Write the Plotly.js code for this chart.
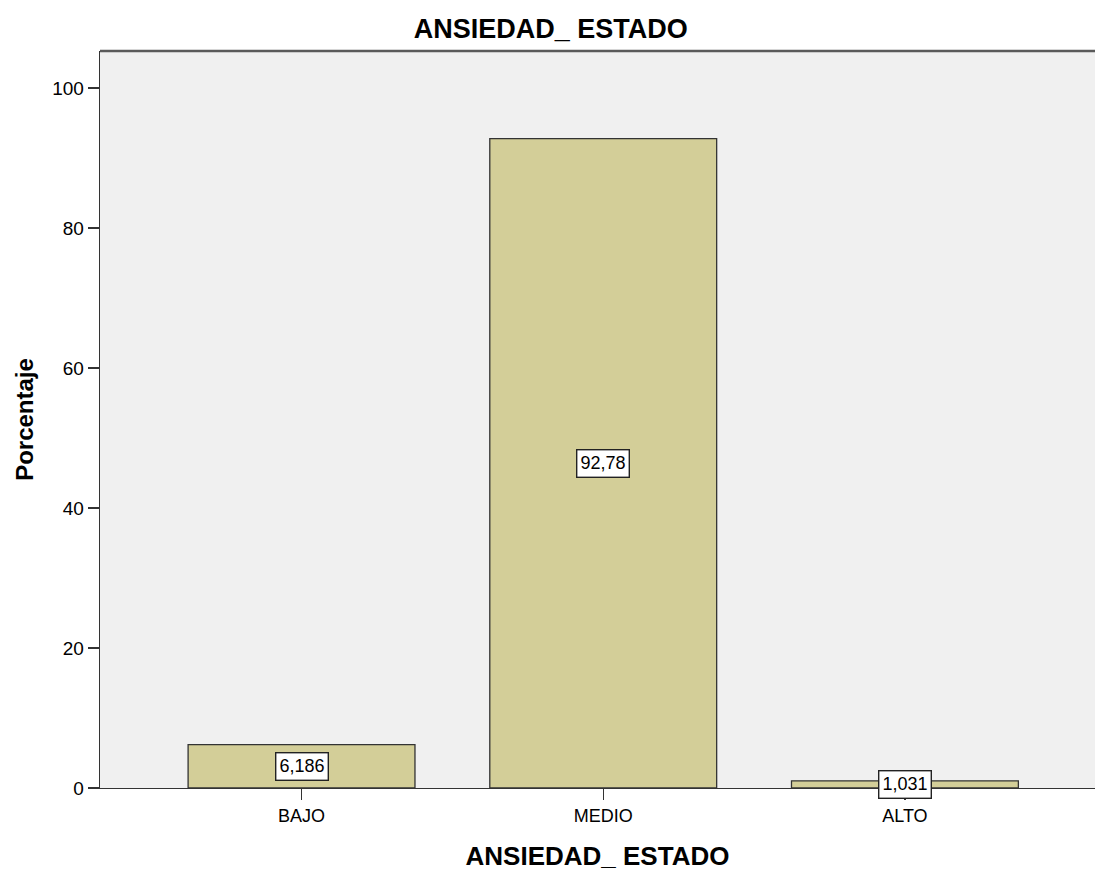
<!DOCTYPE html>
<html>
<head>
<meta charset="utf-8">
<script src="https://cdn.plot.ly/plotly-3.0.1.min.js"></script>
<style>html,body{margin:0;padding:0;background:#fff;}#chart{width:1095px;height:871px;}</style>
</head>
<body>
<div id="chart"></div>
<script>
var categories = ["BAJO", "MEDIO", "ALTO"];
var values = [6.186, 92.78, 1.031];
var labels = ["6,186", "92,78", "1,031"];
var yTicks = [0, 20, 40, 60, 80, 100];

var FONT = "Liberation Sans, Arial, sans-serif";
var idx = categories.map(function(_, i){ return i; });

var trace = {
  type: "bar",
  x: idx,
  y: values,
  width: 0.752,
  marker: {color: "#d3ce98", line: {color: "#333333", width: 1.3}},
  hoverinfo: "skip"
};

var annotations = values.map(function(v, i){
  return {
    x: i, y: v / 2, xref: "x", yref: "y",
    text: labels[i], showarrow: false,
    font: {family: FONT, size: 18, color: "#000"},
    bgcolor: "#ffffff", bordercolor: "#222222", borderwidth: 1.4, borderpad: 3
  };
});

var layout = {
  width: 1095, height: 871,
  margin: {l: 100, r: 0, t: 51, b: 83},
  paper_bgcolor: "#ffffff",
  plot_bgcolor: "#f0f0f0",
  title: {text: "<b>ANSIEDAD_ ESTADO</b>", x: 0.503, xanchor: "center", y: 0.967, yanchor: "middle",
          font: {family: FONT, size: 27, color: "#000"}},
  xaxis: {
    range: [-0.668, 2.63],
    tickvals: idx, ticktext: categories,
    ticks: "outside", ticklen: 11, tickcolor: "#333", tickwidth: 1.3,
    showline: true, linecolor: "#333", linewidth: 1.3,
    showgrid: false, zeroline: false,
    tickfont: {family: FONT, size: 18, color: "#000"},
    title: {text: "<b>ANSIEDAD_ ESTADO</b>", standoff: 22,
            font: {family: FONT, size: 26, color: "#000"}}
  },
  yaxis: {
    range: [0, 105.3],
    tickvals: yTicks,
    ticks: "outside", ticklen: 11, tickcolor: "#333", tickwidth: 1.3,
    showline: true, linecolor: "#333", linewidth: 1.3,
    showgrid: false, zeroline: false,
    tickfont: {family: FONT, size: 19, color: "#000"},
    title: {text: "<b>Porcentaje</b>", standoff: 11,
            font: {family: FONT, size: 24, color: "#000"}}
  },
  shapes: [{type: "line", xref: "paper", yref: "paper", x0: 0, x1: 1, y0: 1, y1: 1,
            line: {color: "#5a5a5a", width: 2.5}}],
  annotations: annotations,
  showlegend: false
};

Plotly.newPlot("chart", [trace], layout, {displayModeBar: false, staticPlot: true});
</script>
</body>
</html>
